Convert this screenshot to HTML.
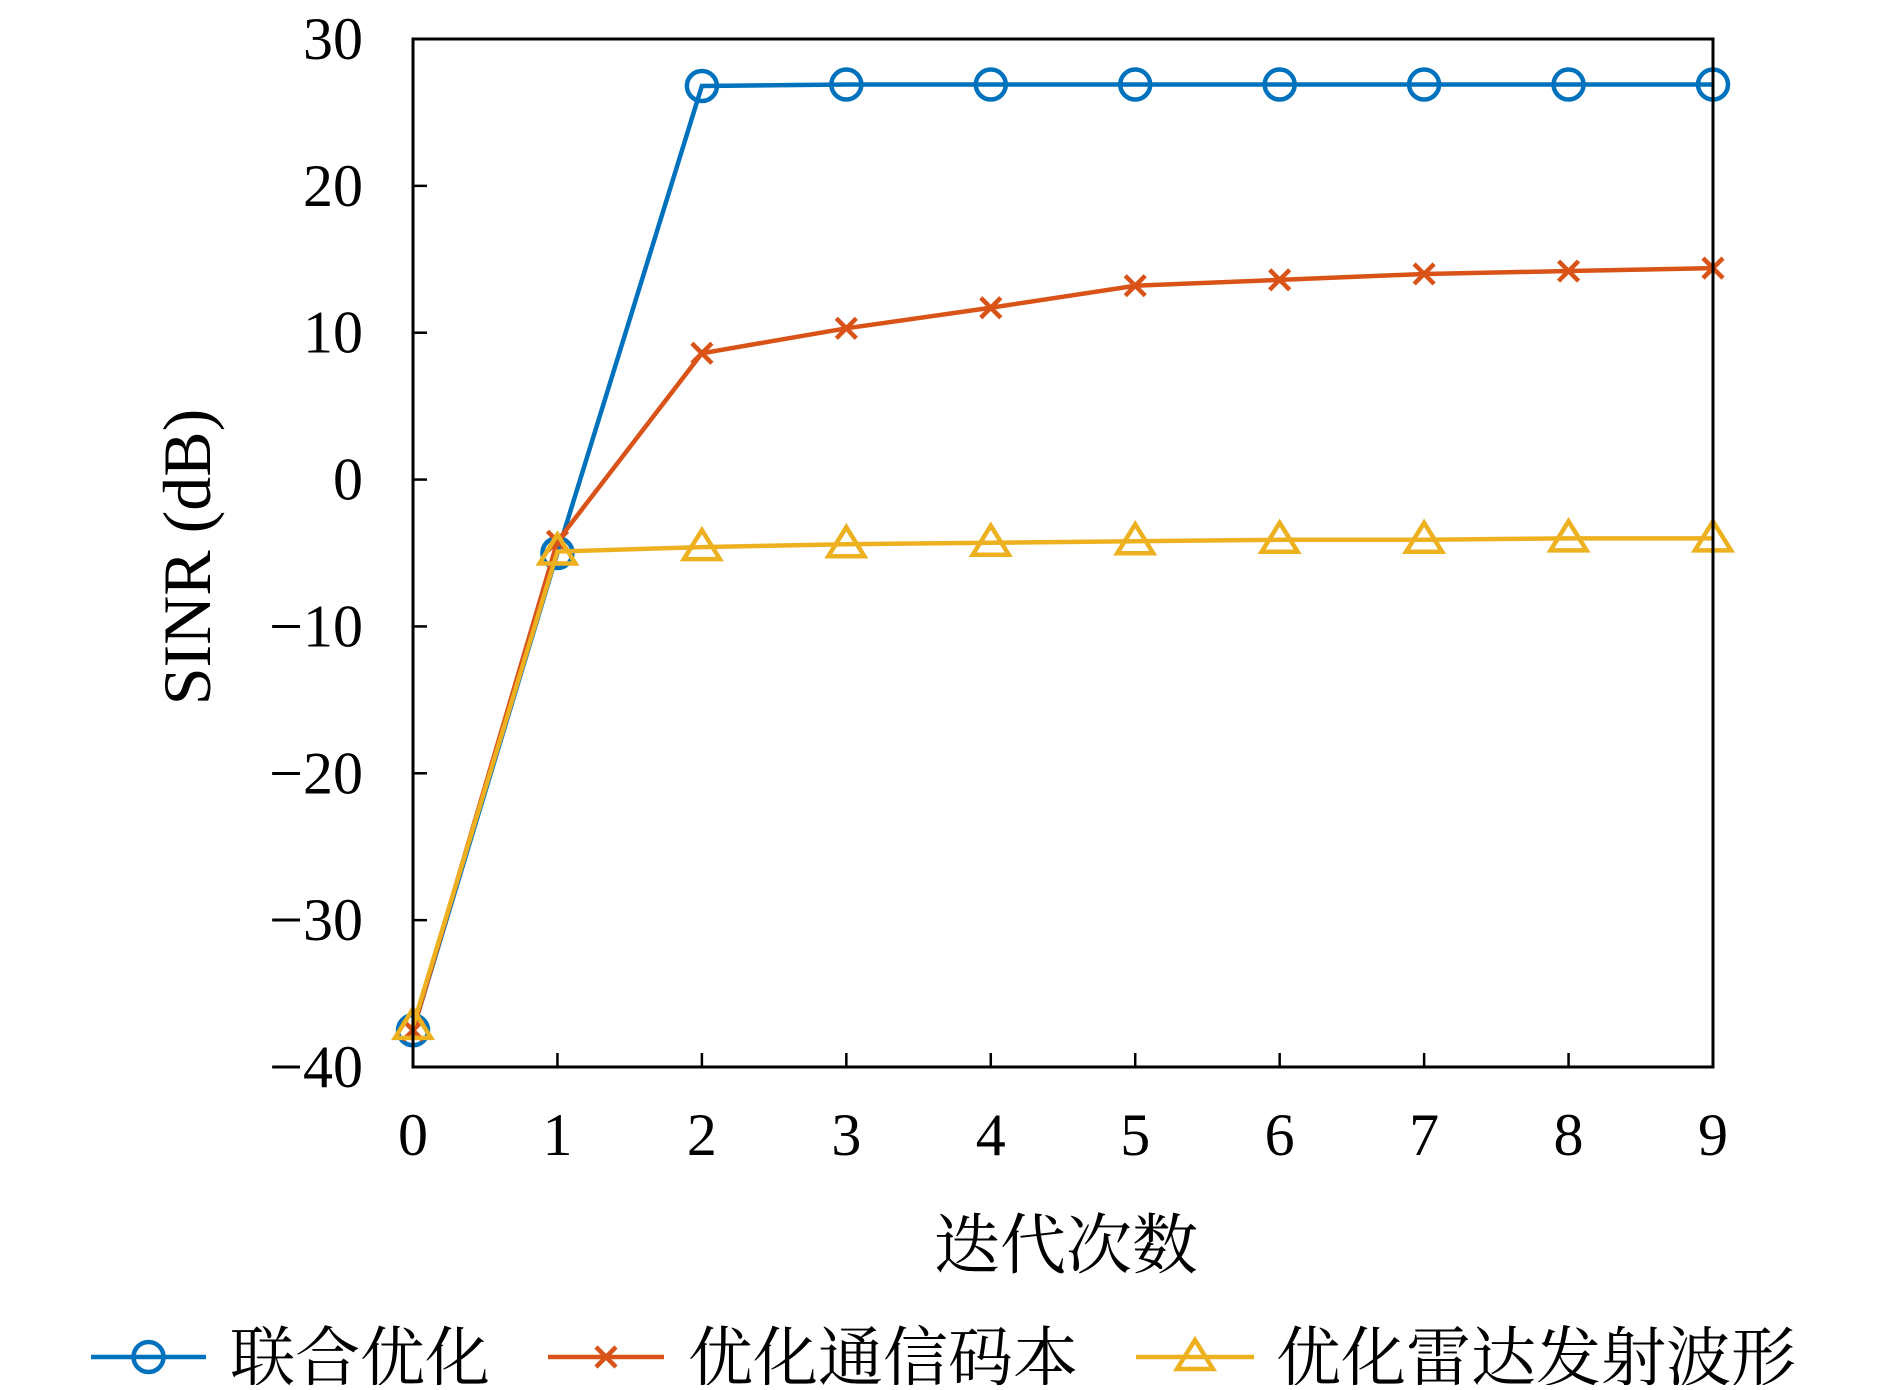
<!DOCTYPE html>
<html><head><meta charset="utf-8"><style>
body{margin:0;background:#fff;}
svg text{font-family:"Liberation Serif","Noto Serif CJK SC",serif;fill:#000;}
.cjk{font-family:"Liberation Serif","Noto Serif CJK SC",serif;}
</style></head><body>
<svg id="chart" width="1890" height="1385" viewBox="0 0 1890 1385" xmlns="http://www.w3.org/2000/svg">
<g id="grid"></g><g id="series"></g>
<rect x="413" y="39" width="1300" height="1028" fill="none" stroke="#000" stroke-width="3"/>
<text transform="translate(210,557) rotate(-90)" text-anchor="middle" font-size="68">SINR (dB)</text>
<text class="cjk" x="1066" y="1268" text-anchor="middle" font-size="66">迭代次数</text>
<g id="legend"></g>
</svg>
<script>
const categories=[0,1,2,3,4,5,6,7,8,9];
const jointOpt=[-37.5,-5,26.8,26.9,26.9,26.9,26.9,26.9,26.9,26.9];
const commOpt=[-37.5,-4.2,8.6,10.3,11.7,13.2,13.6,14.0,14.2,14.4];
const radarOpt=[-37.2,-4.9,-4.6,-4.4,-4.3,-4.2,-4.1,-4.1,-4.0,-4.0];
const yTicks=[30,20,10,0,-10,-20,-30,-40];
const seriesNames=["联合优化","优化通信码本","优化雷达发射波形"];
const NS="http://www.w3.org/2000/svg";
const L=413,R=1713,T=39,B=1067;
const xs=v=>L+(v-0)/(9-0)*(R-L);
const ys=v=>B-(v+40)/70*(B-T);
function mk(tag,attrs,parent){const e=document.createElementNS(NS,tag);for(const k in attrs)e.setAttribute(k,attrs[k]);parent.appendChild(e);return e;}
const grid=document.getElementById('grid');
yTicks.forEach(t=>{
 const y=ys(t);
 const ln=mk('line',{x1:L,x2:L+14,y1:y,y2:y,stroke:'#000','stroke-width':2.5},grid);
 
 
 const tx=mk('text',{x:L-50,y:y+20,'text-anchor':'end','font-size':60},grid);
 
 
 tx.textContent=t<0?'\u2212'+(-t):String(t);
});
categories.forEach(c=>{
 const x=xs(c);
 const ln=mk('line',{x1:x,x2:x,y1:B,y2:B-14,stroke:'#000','stroke-width':2.5},grid);
 
 
 const tx=mk('text',{x:x,y:B+88,'text-anchor':'middle','font-size':60},grid);
 
 
 tx.textContent=String(c);
});
const colors=['#0072BD','#D95319','#EDB120'];
const kinds=['circle','x','tri'];
function marker(kind,x,y,color,parent){
 let e;
 if(kind==='circle')e=mk('circle',{cx:x,cy:y,r:15,fill:'none',stroke:color,'stroke-width':4.5},parent);
 else if(kind==='x')e=mk('path',{d:`M${x-10},${y-10}L${x+10},${y+10}M${x-10},${y+10}L${x+10},${y-10}`,stroke:color,'stroke-width':4.5,fill:'none'},parent);
 else e=mk('path',{d:`M${x},${y-17}L${x+18},${y+12}L${x-18},${y+12}Z`,stroke:color,'stroke-width':4.5,fill:'none'},parent);
 return e;
}
const sg=document.getElementById('series');
[jointOpt,commOpt,radarOpt].forEach((vals,i)=>{
 const g=mk('g',{},sg);
 
 
 const p=mk('polyline',{points:vals.map((v,j)=>xs(categories[j])+','+ys(v)).join(' '),fill:'none',stroke:colors[i],'stroke-width':4.5},g);
 
 
 vals.forEach((v,j)=>{
  const m=marker(kinds[i],xs(categories[j]),ys(v),colors[i],g);
  
  
 });
});
const lg=document.getElementById('legend');
const lx=[[91,206,230],[548,664,688],[1136,1254,1276]];
seriesNames.forEach((n,i)=>{
 const g=mk('g',{},lg);
 
 
 const y=1357;
 mk('line',{x1:lx[i][0],x2:lx[i][1],y1:y,y2:y,stroke:colors[i],'stroke-width':4.5},g);
 marker(kinds[i],(lx[i][0]+lx[i][1])/2,y,colors[i],g);
 const t=mk('text',{x:lx[i][2],y:y+23,'font-size':65,'class':'cjk'},g);
 t.textContent=n;
});
</script>
</body></html>
